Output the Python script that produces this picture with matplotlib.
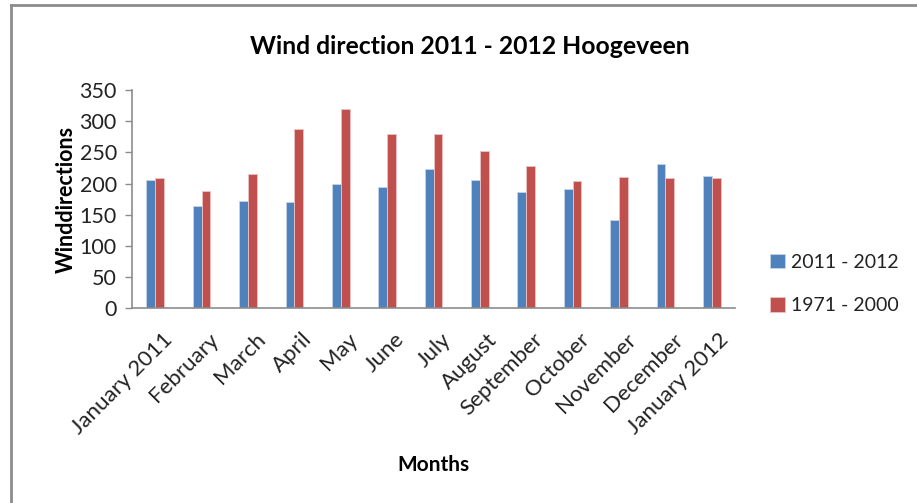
import numpy as np
import matplotlib
matplotlib.use("Agg")
import matplotlib.pyplot as plt
from matplotlib.lines import Line2D

plt.rcParams["font.family"] = ["Lato", "DejaVu Sans"]

months = [
    "January 2011", "February", "March", "April", "May", "June", "July",
    "August", "September", "October", "November", "December", "January 2012",
]
dir_2011_2012 = [206, 164, 172, 170, 200, 194, 223, 206, 187, 191, 142, 232, 213]
dir_1971_2000 = [209, 189, 215, 287, 320, 279, 279, 253, 228, 204, 211, 209, 209]

blue = "#4F81BD"
red = "#C0504D"
grey = "#8C8C8C"

fig = plt.figure(figsize=(9.17, 5.03), dpi=100)
ax = fig.add_axes([0.144, 0.3867, 0.6575, 0.4343])

x = np.arange(len(months))
w = 0.19
ax.bar(x - w / 2, dir_2011_2012, width=w, color=blue, edgecolor="#C6D5EA",
       linewidth=0.6, label="2011 - 2012")
ax.bar(x + w / 2, dir_1971_2000, width=w, color=red, edgecolor="#EBC4C3",
       linewidth=0.6, label="1971 - 2000")

ax.set_xlim(-0.5, len(months) - 0.5)
ax.set_ylim(0, 350)
ax.set_yticks(np.arange(0, 351, 50))
# slanted labels sit slightly right of the bar pair centre (ticks are hidden)
ax.set_xticks(x + 0.15)
ax.set_xticklabels(months, rotation=45, ha="right", va="top",
                   rotation_mode="anchor")

for s in ["top", "right"]:
    ax.spines[s].set_visible(False)
for s in ["left", "bottom"]:
    ax.spines[s].set_color(grey)
    ax.spines[s].set_linewidth(1.2)
ax.tick_params(axis="y", length=5, color=grey, width=1, labelsize=15.5,
               labelcolor="#222222", pad=6)
ax.tick_params(axis="x", length=0, labelsize=16, labelcolor="#222222", pad=15)

ax.set_title("Wind direction 2011 - 2012 Hoogeveen", fontsize=17.8,
             fontweight="bold", pad=26, x=0.56)
ax.set_ylabel("Winddirections", fontsize=15.5, fontweight="bold", labelpad=2)
ax.set_xlabel("Months", fontsize=15, fontweight="bold", labelpad=12)

handles, labels = ax.get_legend_handles_labels()
fig.legend(handles, labels, loc="center left", bbox_to_anchor=(0.821, 0.435),
           frameon=False, fontsize=14, handlelength=0.75, handleheight=0.75,
           handletextpad=0.3, labelspacing=1.35, labelcolor="#222222")

# chart area border (top and left visible)
fig.add_artist(Line2D([0.012, 1.0], [0.991, 0.991], color=grey, lw=2,
                      transform=fig.transFigure))
fig.add_artist(Line2D([0.012, 0.012], [0.0, 0.991], color=grey, lw=2,
                      transform=fig.transFigure))

fig.savefig("out.png", dpi=100)
